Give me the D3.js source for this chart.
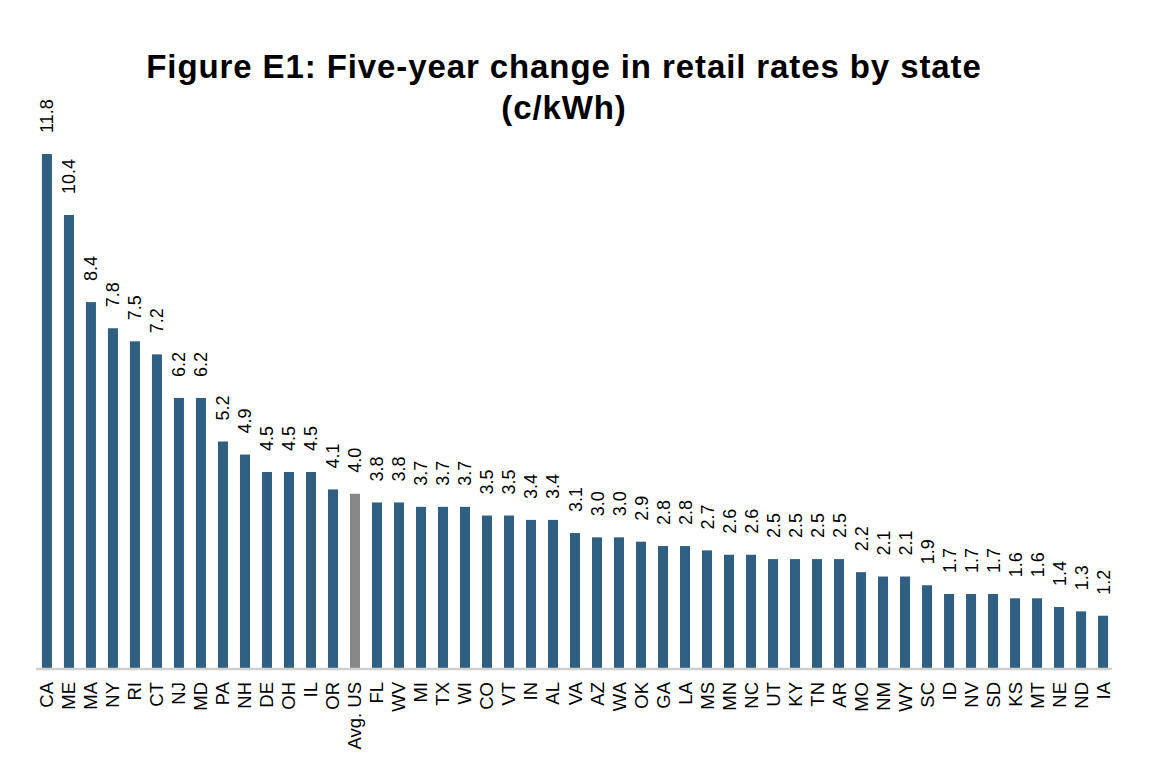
<!DOCTYPE html>
<html>
<head>
<meta charset="utf-8">
<script src="https://cdn.jsdelivr.net/npm/d3@7"></script>
<style>
  body { margin: 0; background: #fff; }
  text { font-family: "Liberation Sans", Arial, sans-serif; }
</style>
</head>
<body>
<div id="chart"></div>
<script>
var states = ["CA", "ME", "MA", "NY", "RI", "CT", "NJ", "MD", "PA", "NH", "DE", "OH", "IL", "OR", "Avg. US",
  "FL", "WV", "MI", "TX", "WI", "CO", "VT", "IN", "AL", "VA", "AZ", "WA", "OK", "GA", "LA", "MS", "MN", "NC",
  "UT", "KY", "TN", "AR", "MO", "NM", "WY", "SC", "ID", "NV", "SD", "KS", "MT", "NE", "ND", "IA"];
var changes = [11.8, 10.4, 8.4, 7.8, 7.5, 7.2, 6.2, 6.2, 5.2, 4.9, 4.5, 4.5, 4.5, 4.1, 4.0,
  3.8, 3.8, 3.7, 3.7, 3.7, 3.5, 3.5, 3.4, 3.4, 3.1, 3.0, 3.0, 2.9, 2.8, 2.8, 2.7, 2.6, 2.6,
  2.5, 2.5, 2.5, 2.5, 2.2, 2.1, 2.1, 1.9, 1.7, 1.7, 1.7, 1.6, 1.6, 1.4, 1.3, 1.2];
var avgLabel = "Avg. US";

var width = 1166, height = 778;
var data = states.map(function(s, i) { return {state: s, value: changes[i]}; });

var svg = d3.select("#chart")
  .append("svg")
    .attr("width", width)
    .attr("height", height);

var x = d3.scaleBand()
  .domain(states)
  .range([36, 1114])
  .paddingInner(0.545)
  .paddingOuter(0.27);

var y = d3.scaleLinear()
  .domain([0, 11.8])
  .range([668, 154]);

// title
svg.append("text")
  .attr("x", 564)
  .attr("y", 78)
  .attr("text-anchor", "middle")
  .style("font-size", "33px")
  .style("letter-spacing", "0.9px")
  .style("font-weight", "bold")
  .text("Figure E1: Five-year change in retail rates by state");
svg.append("text")
  .attr("x", 564)
  .attr("y", 119)
  .attr("text-anchor", "middle")
  .style("font-size", "33px")
  .style("letter-spacing", "0.9px")
  .style("font-weight", "bold")
  .text("(c/kWh)");

// bars
svg.selectAll("rect.bar")
  .data(data)
  .enter()
  .append("rect")
    .attr("class", "bar")
    .attr("x", function(d) { return x(d.state); })
    .attr("width", x.bandwidth())
    .attr("y", function(d) { return y(d.value); })
    .attr("height", function(d) { return y(0) - y(d.value); })
    .attr("fill", function(d) { return d.state == avgLabel ? "#878787" : "#2f5f82"; });

// x axis
var xAxis = svg.append("g")
  .attr("transform", "translate(0," + (y(0) + 1) + ")")
  .call(d3.axisBottom(x).tickSize(0).tickPadding(0));
xAxis.select(".domain")
  .attr("stroke", "#d0d0d0")
  .attr("stroke-width", 2.5)
  .attr("d", "M36,0H1112");
xAxis.selectAll("text")
  .attr("transform", "translate(6.5,13) rotate(-90)")
  .attr("x", 0)
  .attr("y", 0)
  .attr("dy", 0)
  .attr("text-anchor", "end")
  .style("font-size", "18.5px")
  .attr("fill", "#000");

// value labels
svg.append("g")
  .selectAll("text")
  .data(data)
  .enter()
  .append("text")
    .attr("transform", function(d) {
      return "translate(" + (x(d.state) + x.bandwidth() / 2 + 6.5) + "," + (y(d.value) - 21) + ") rotate(-90)";
    })
    .attr("text-anchor", "start")
    .style("font-size", "18px")
    .attr("fill", "#000")
    .text(function(d) { return d.value.toFixed(1); });
</script>
</body>
</html>
